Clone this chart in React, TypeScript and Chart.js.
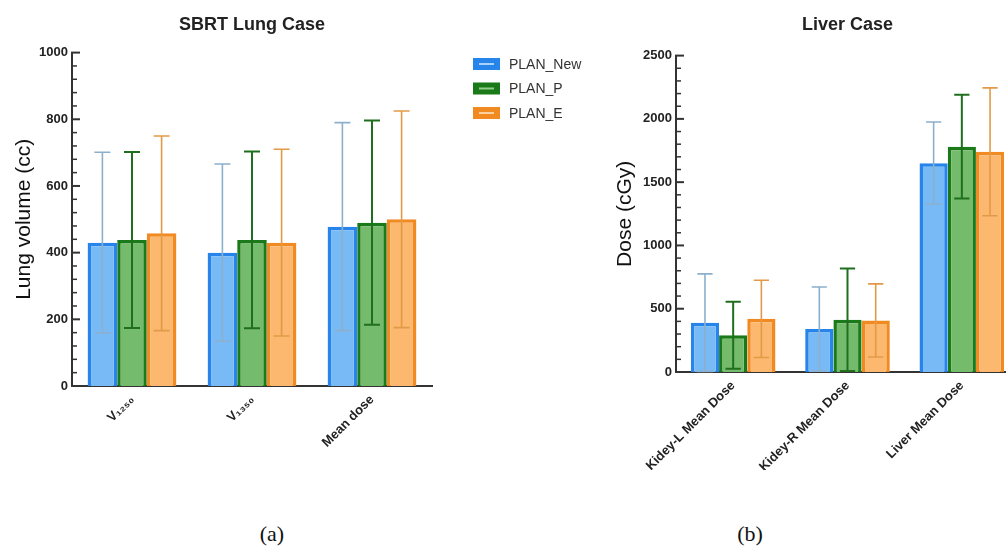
import React, { useEffect, useRef } from "react";
import { Chart, registerables } from "chart.js";

Chart.register(...registerables);

// ---------- Data ----------
const seriesNames = ["PLAN_New", "PLAN_P", "PLAN_E"];

const lungCategories = ["V\u2081\u2082\u2085\u2080", "V\u2081\u2083\u2085\u2080", "Mean dose"];
const lungNew = [430, 400, 478];
const lungNewErr = [271, 266, 312];
const lungP = [438, 438, 490];
const lungPErr = [264, 265, 306];
const lungE = [458, 430, 500];
const lungEErr = [292, 280, 325];
const lungTicks = [0, 200, 400, 600, 800, 1000];

const liverCategories = ["Kidey-L Mean Dose", "Kidey-R Mean Dose", "Liver Mean Dose"];
const liverNew = [390, 340, 1650];
const liverNewErr = [385, 332, 325];
const liverP = [290, 412, 1780];
const liverPErr = [265, 405, 410];
const liverE = [420, 407, 1740];
const liverEErr = [305, 289, 505];
const liverTicks = [0, 500, 1000, 1500, 2000, 2500];

// ---------- Styles ----------
const FONT = "'Liberation Sans', Arial, Helvetica, sans-serif";
const borderColors = ["#2684ea", "#1a7a1a", "#f28a22"];
const fillColors = ["#78baf6", "#74bb6c", "#fbb86e"];
const errColors = ["#8cb0cc", "#1f6f1f", "#e39a48"];
const legendLine = ["#a9d2f8", "#8fcf8a", "#fcd1a0"];

const errorBarPlugin = {
  id: "errorBars",
  afterDatasetsDraw(chart: any) {
    const ctx = chart.ctx;
    const yScale = chart.scales.y;
    chart.data.datasets.forEach((ds: any, di: number) => {
      const meta = chart.getDatasetMeta(di);
      ctx.save();
      ctx.strokeStyle = errColors[di];
      ctx.lineWidth = di === 1 ? 2 : 1.6;
      meta.data.forEach((bar: any, i: number) => {
        const v = ds.data[i];
        const e = ds.errors[i];
        const yTop = yScale.getPixelForValue(v + e);
        const yBot = yScale.getPixelForValue(Math.max(0, v - e));
        const x = bar.x;
        const cap = bar.width * 0.27;
        ctx.beginPath();
        ctx.moveTo(x, yTop);
        ctx.lineTo(x, yBot);
        ctx.moveTo(x - cap, yTop);
        ctx.lineTo(x + cap, yTop);
        if (v - e > 0) {
          ctx.moveTo(x - cap, yBot);
          ctx.lineTo(x + cap, yBot);
        }
        ctx.stroke();
      });
      ctx.restore();
    });
  },
};

const inwardTicksPlugin = {
  id: "inwardTicks",
  afterDraw(chart: any, _args: any, opts: any) {
    const ctx = chart.ctx;
    const y = chart.scales.y;
    const left = chart.chartArea.left;
    ctx.save();
    ctx.strokeStyle = "#333";
    y.ticks.forEach((t: any) => {
      const py = y.getPixelForValue(t.value);
      const major = t.value % opts.major === 0;
      ctx.lineWidth = major ? 2 : 1.5;
      ctx.beginPath();
      ctx.moveTo(left - 1, py);
      ctx.lineTo(left + (major ? 8 : 5), py);
      ctx.stroke();
    });
    ctx.restore();
  },
};

const legendPlugin = {
  id: "customLegend",
  afterDraw(chart: any, _args: any, opts: any) {
    if (!opts || !opts.show) return;
    const ctx = chart.ctx;
    ctx.save();
    chart.data.datasets.forEach((ds: any, i: number) => {
      const cy = opts.y + i * opts.gap;
      ctx.fillStyle = borderColors[i];
      ctx.fillRect(opts.x, cy - 6, 27, 12);
      ctx.strokeStyle = legendLine[i];
      ctx.lineWidth = 2;
      ctx.beginPath();
      ctx.moveTo(opts.x + 6, cy);
      ctx.lineTo(opts.x + 21, cy);
      ctx.stroke();
      ctx.fillStyle = "#333";
      ctx.font = `14px ${FONT}`;
      ctx.textBaseline = "middle";
      ctx.textAlign = "left";
      ctx.fillText(ds.label, opts.x + 36, cy + 1);
    });
    ctx.restore();
  },
};

function makeDatasets(vals: number[][], errs: number[][]) {
  return vals.map((v, i) => ({
    label: seriesNames[i],
    data: v,
    errors: errs[i],
    backgroundColor: fillColors[i],
    borderColor: borderColors[i],
    borderWidth: 3.5,
    borderSkipped: "bottom",
    categoryPercentage: 0.74,
    barPercentage: 1,
  }));
}

function makeConfig(p: any): any {
  return {
    type: "bar",
    data: { labels: p.labels, datasets: makeDatasets(p.vals, p.errs) },
    plugins: [errorBarPlugin, inwardTicksPlugin, legendPlugin],
    options: {
      responsive: false,
      animation: false,
      layout: { padding: { left: 0, right: p.padRight, top: 0, bottom: 0 } },
      plugins: {
        legend: { display: false },
        tooltip: { enabled: false },
        title: {
          display: true,
          text: p.title,
          fullSize: false,
          color: "#222",
          font: { family: FONT, size: 18, weight: "bold" },
          padding: { top: 14, bottom: p.titleBottom },
        },
        inwardTicks: { major: p.major },
        customLegend: p.legend,
      },
      scales: {
        x: {
          grid: { display: false, drawTicks: false },
          border: { display: true, color: "#333", width: 2 },
          ticks: {
            color: "#222",
            font: { family: FONT, size: p.xFont, weight: "bold" },
            minRotation: 45,
            maxRotation: 45,
            padding: 6,
            autoSkip: false,
          },
          afterFit: (s: any) => {
            s.height = p.xHeight;
          },
        },
        y: {
          min: 0,
          max: p.max,
          grid: { display: false, drawTicks: false },
          border: { display: true, color: "#333", width: 2 },
          ticks: {
            stepSize: p.minor,
            autoSkip: false,
            padding: 4,
            color: "#222",
            font: { family: FONT, size: 13, weight: "bold" },
            callback: (v: number) => (p.tickLabels.includes(v) ? String(v) : ""),
          },
          title: {
            display: true,
            text: p.yTitle,
            color: "#111",
            font: { family: FONT, size: 21 },
            padding: { top: p.yTitlePad, bottom: 0 },
          },
          afterFit: (s: any) => {
            s.width = p.yWidth;
          },
        },
      },
    },
  };
}

function ChartCanvas(props: { config: any; style: React.CSSProperties; w: number; h: number }) {
  const ref = useRef<HTMLCanvasElement | null>(null);
  useEffect(() => {
    if (!ref.current) return;
    const c = new Chart(ref.current, props.config);
    return () => c.destroy();
  }, []);
  return <canvas ref={ref} width={props.w} height={props.h} style={{ position: "absolute", ...props.style }} />;
}

const captionStyle: React.CSSProperties = {
  position: "absolute",
  width: 80,
  top: 521,
  textAlign: "center",
  fontFamily: "'Liberation Serif', 'Times New Roman', serif",
  fontSize: 22,
  color: "#111",
};

export default function App() {
  const lungConfig = makeConfig({
    labels: lungCategories,
    vals: [lungNew, lungP, lungE],
    errs: [lungNewErr, lungPErr, lungEErr],
    title: "SBRT Lung Case",
    titleBottom: 17,
    padRight: 168,
    xHeight: 84,
    yWidth: 72,
    max: 1000,
    minor: 40,
    major: 200,
    tickLabels: lungTicks,
    yTitle: "Lung volume (cc)",
    yTitlePad: 12,
    xFont: 13,
    legend: { show: true, x: 473, y: 64, gap: 24.5 },
  });
  const liverConfig = makeConfig({
    labels: liverCategories,
    vals: [liverNew, liverP, liverE],
    errs: [liverNewErr, liverPErr, liverEErr],
    title: "Liver Case",
    titleBottom: 20,
    padRight: 11,
    xHeight: 98,
    yWidth: 86,
    max: 2500,
    minor: 100,
    major: 500,
    tickLabels: liverTicks,
    yTitle: "Dose (cGy)",
    yTitlePad: 23,
    xFont: 13,
    legend: { show: false },
  });
  return (
    <div style={{ position: "fixed", left: 0, top: 0, width: 1006, height: 550, overflow: "hidden", background: "#fff" }}>
      <ChartCanvas config={lungConfig} w={600} h={470} style={{ left: 0, top: 0 }} />
      <ChartCanvas config={liverConfig} w={440} h={470} style={{ left: 590, top: 0 }} />
      <div style={{ ...captionStyle, left: 232 }}>(a)</div>
      <div style={{ ...captionStyle, left: 710 }}>(b)</div>
    </div>
  );
}
